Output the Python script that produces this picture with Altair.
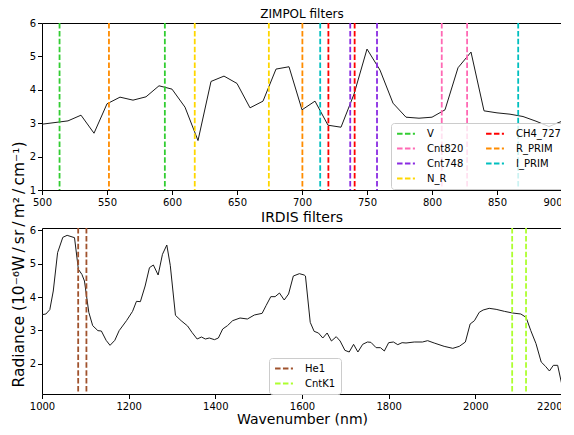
import altair as alt
import pandas as pd

FONT = "DejaVu Sans"

# ZIMPOL spectrum
zimpol_wl = [500, 510, 520, 530, 540, 550, 560, 570, 580, 590, 600, 610, 620, 630, 640,
             650, 660, 670, 680, 690, 700, 710, 720, 730, 740, 750, 760, 770, 780, 790,
             800, 810, 820, 830, 840, 850, 860, 870, 880, 890, 900]
zimpol_rad = [2.97, 3.02, 3.07, 3.24, 2.70, 3.58, 3.78, 3.69, 3.79, 4.12, 4.02, 3.48, 2.48, 4.25, 4.41,
              4.19, 3.46, 3.66, 4.62, 4.69, 3.40, 3.66, 2.94, 2.88, 3.87, 5.22, 4.59, 3.60, 3.18, 3.15,
              3.18, 3.40, 4.66, 5.13, 3.37, 3.31, 3.27, 3.20, 3.06, 2.90, 3.06]

# IRDIS spectrum
irdis_wl = [1000, 1009, 1018, 1026, 1036, 1048, 1058, 1075, 1084, 1092, 1098, 1108, 1117, 1129, 1137,
            1148, 1157, 1168, 1178, 1195, 1209, 1218, 1227, 1238, 1248, 1257, 1268, 1278, 1288, 1296,
            1308, 1321, 1336, 1346, 1358, 1368, 1377, 1386, 1398, 1407, 1417, 1428, 1440, 1457, 1474,
            1490, 1508, 1517, 1528, 1538, 1548, 1559, 1569, 1580, 1594, 1605, 1608, 1619, 1628, 1638,
            1648, 1658, 1668, 1679, 1688, 1699, 1709, 1719, 1729, 1740, 1751, 1759, 1771, 1781, 1790,
            1800, 1811, 1821, 1831, 1840, 1859, 1878, 1890, 1905, 1928, 1948, 1963, 1977, 1988, 1998,
            2009, 2018, 2032, 2048, 2067, 2086, 2105, 2117, 2128, 2140, 2152, 2162, 2171, 2180, 2190,
            2200]
irdis_rad = [3.47, 3.49, 3.62, 4.18, 5.33, 5.79, 5.85, 5.78, 4.83, 4.68, 4.48, 3.54, 3.14, 2.99, 2.98,
             2.70, 2.55, 2.70, 2.99, 3.29, 3.57, 3.87, 3.86, 4.33, 4.88, 4.96, 4.66, 5.28, 5.56, 4.95,
             3.45, 3.29, 3.13, 2.94, 2.74, 2.80, 2.74, 2.77, 2.72, 2.77, 3.04, 3.14, 3.29, 3.37, 3.34,
             3.46, 3.51, 3.74, 4.01, 4.01, 4.12, 3.91, 4.09, 4.63, 4.70, 4.66, 4.63, 3.24, 2.97, 2.92,
             2.77, 2.92, 2.68, 2.81, 2.68, 2.40, 2.35, 2.58, 2.35, 2.58, 2.65, 2.64, 2.48, 2.48, 2.38,
             2.63, 2.65, 2.57, 2.63, 2.62, 2.65, 2.65, 2.69, 2.62, 2.52, 2.46, 2.52, 2.65, 3.19, 3.29,
             3.54, 3.61, 3.66, 3.63, 3.57, 3.52, 3.49, 3.39, 2.99, 2.60, 2.05, 1.92, 1.78, 1.95, 1.95,
             1.35]

# filter edges
zimpol_names = ["V", "V", "N_R", "N_R", "R_PRIM", "R_PRIM", "CH4_727", "CH4_727",
                "Cnt748", "Cnt748", "Cnt820", "Cnt820", "I_PRIM", "I_PRIM"]
zimpol_edges = [513.5, 594.5, 617.5, 674.5, 551.5, 700.3, 720.3, 740.5,
                737.1, 757.7, 807.5, 827.0, 714.0, 866.3]
zimpol_order = ["V", "Cnt820", "Cnt748", "N_R", "CH4_727", "R_PRIM", "I_PRIM"]
zimpol_colors = ["#32CD32", "#FF69B4", "#8A2BE2", "#FFD700", "#FF0000", "#FF8C00", "#00BFBF"]

irdis_names = ["He1", "He1", "CntK1", "CntK1"]
irdis_edges = [1083.5, 1102.5, 2085.0, 2117.0]
irdis_order = ["He1", "CntK1"]
irdis_colors = ["#A0522D", "#ADFF2F"]

zimpol_ticks = [500, 550, 600, 650, 700, 750, 800, 850, 900]
irdis_ticks = [1000, 1200, 1400, 1600, 1800, 2000, 2200]

Y_TITLE = "Radiance (10⁻⁶W\u2009/\u2009sr\u2009/\u2009m²\u2009/\u2009cm⁻¹)"

DASH = [5.5, 2.4]

df_zs = pd.DataFrame({"wl": zimpol_wl, "rad": zimpol_rad})
df_zf = pd.DataFrame({"wl": zimpol_edges, "filter": zimpol_names})
df_is = pd.DataFrame({"wl": irdis_wl, "rad": irdis_rad})
df_if = pd.DataFrame({"wl": irdis_edges, "filter": irdis_names})


def make_legend(x, y, cols):
    return alt.Legend(
        title=None, orient="none", legendX=x, legendY=y, columns=cols,
        symbolType="M-2,0H2", symbolSize=80, symbolStrokeWidth=1.8, symbolDash=DASH,
        symbolOffset=4.5, labelOffset=15.5, labelFontSize=10, labelFont=FONT,
        labelColor="black", rowPadding=4, columnPadding=18, padding=5,
        strokeColor="#cccccc", cornerRadius=3, fillColor="rgba(255,255,255,0.8)",
    )


def x_axis(ticks, title):
    last = ticks[-1]
    kw = dict(values=ticks, format="d",
              labelAlign=alt.condition(f"datum.value == {last}", alt.value("right"), alt.value("center")))
    if title:
        return alt.Axis(title=title, titlePadding=1, **kw)
    return alt.Axis(title=None, **kw)


zx = alt.X("wl:Q", scale=alt.Scale(domain=[500, 900], nice=False, zero=False),
           axis=x_axis(zimpol_ticks, None))
top_line = alt.Chart(df_zs).mark_line(color="#1a1a1a", strokeWidth=1).encode(
    x=zx,
    y=alt.Y("rad:Q", scale=alt.Scale(domain=[1, 6], nice=False, zero=False),
            axis=alt.Axis(values=[1, 2, 3, 4, 5, 6], title=Y_TITLE,
                          titleFontSize=15.5, titleX=-15.8, titleY=241)),
)
top_rules = alt.Chart(df_zf).mark_rule(strokeDash=DASH, strokeWidth=1.8).encode(
    x=zx,
    color=alt.Color("filter:N", scale=alt.Scale(domain=zimpol_order, range=zimpol_colors),
                    legend=make_legend(349, 100, 2)),
)
top = alt.layer(top_line, top_rules).properties(
    width=520, height=167,
    title=alt.TitleParams("ZIMPOL filters", fontSize=12, offset=-3, font=FONT,
                          fontWeight="normal", color="black"),
)

ix = alt.X("wl:Q", scale=alt.Scale(domain=[1000, 2200], nice=False, zero=False),
           axis=x_axis(irdis_ticks, "Wavenumber (nm)"))
bot_line = alt.Chart(df_is).mark_line(color="#1a1a1a", strokeWidth=1).encode(
    x=ix,
    y=alt.Y("rad:Q", scale=alt.Scale(domain=[1.09, 6.07], nice=False, zero=False),
            axis=alt.Axis(values=[2, 3, 4, 5, 6], title=None)),
)
bot_rules = alt.Chart(df_if).mark_rule(strokeDash=DASH, strokeWidth=1.8).encode(
    x=ix,
    color=alt.Color("filter:N", scale=alt.Scale(domain=irdis_order, range=irdis_colors),
                    legend=make_legend(227, 130, 1)),
)
bottom = alt.layer(bot_line, bot_rules).properties(
    width=520, height=166,
    title=alt.TitleParams("IRDIS filters", fontSize=14, offset=0, font=FONT,
                          fontWeight="normal", color="black"),
)

chart = alt.vconcat(top, bottom, spacing=38, bounds="flush").resolve_scale(
    x="independent", y="independent", color="independent"
).resolve_legend(color="independent").properties(
    padding={"left": 2, "top": -1, "right": -6, "bottom": 0}
).configure_view(
    stroke="black", strokeWidth=1
).configure_axis(
    domain=False, grid=False, tickColor="black", tickSize=4.5, tickWidth=1,
    labelFont=FONT, labelFontSize=10, labelColor="black", labelPadding=2,
    titleFont=FONT, titleFontSize=14, titleFontWeight="normal", titleColor="black",
).configure_axisX(labelPadding=3)

chart.save("out.html", embed_options={"renderer": "svg", "actions": False})
